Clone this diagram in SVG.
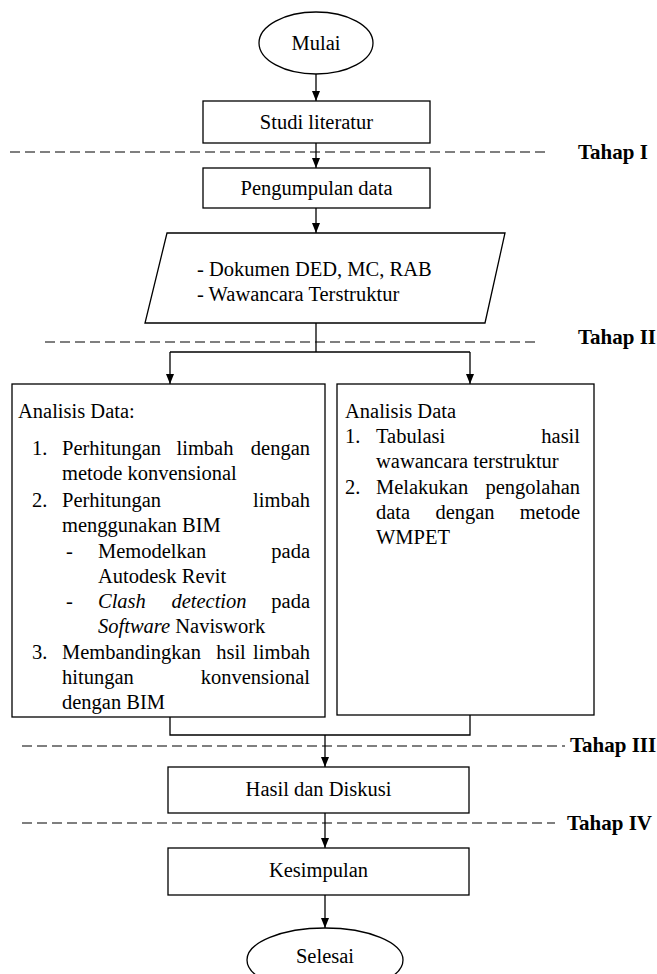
<svg xmlns="http://www.w3.org/2000/svg" width="657" height="974" viewBox="0 0 657 974" font-family="'Liberation Serif', 'DejaVu Serif', serif">
<style>
.shape{fill:#fff;stroke:#000;stroke-width:1.3}
.t{font-family:'Liberation Serif','DejaVu Serif',serif;font-size:20.5px;fill:#000}
.c{text-anchor:middle}
.e{text-anchor:end}
.i{font-style:italic}
.tahap{font-family:'Liberation Serif','DejaVu Serif',serif;font-size:21px;font-weight:bold;fill:#000}
.conn{fill:none;stroke:#000;stroke-width:1.3}
.dash{fill:none;stroke:#555;stroke-width:1.5;stroke-dasharray:10 5}
</style>
<defs>
<marker id="ah" viewBox="0 0 10 8" markerWidth="10" markerHeight="8" refX="10" refY="4" orient="auto" markerUnits="userSpaceOnUse">
<path d="M0,0 L10,4 L0,8 z" fill="#000"/>
</marker>
</defs>

<g id="stage-lines">
<line class="dash" x1="10" y1="152" x2="548" y2="152"/>
<text class="tahap" x="578" y="159">Tahap I</text>
<line class="dash" x1="45" y1="342" x2="540" y2="342"/>
<text class="tahap" x="578" y="344">Tahap II</text>
<line class="dash" x1="22" y1="746" x2="565" y2="746"/>
<text class="tahap" x="570" y="752">Tahap III</text>
<line class="dash" x1="22" y1="823" x2="555" y2="823"/>
<text class="tahap" x="567" y="830">Tahap IV</text>
</g>

<g id="connectors">
<line class="conn" x1="316" y1="74" x2="316" y2="101" marker-end="url(#ah)"/>
<line class="conn" x1="316" y1="143" x2="316" y2="168" marker-end="url(#ah)"/>
<line class="conn" x1="316" y1="208" x2="316" y2="233" marker-end="url(#ah)"/>
<polyline class="conn" points="316,323 316,352"/>
<polyline class="conn" points="170,352 470,352"/>
<line class="conn" x1="170" y1="352" x2="170" y2="384" marker-end="url(#ah)"/>
<line class="conn" x1="470" y1="352" x2="470" y2="384" marker-end="url(#ah)"/>
<polyline class="conn" points="170,717 170,735 470,735 470,715"/>
<line class="conn" x1="325" y1="735" x2="325" y2="767" marker-end="url(#ah)"/>
<line class="conn" x1="325" y1="813" x2="325" y2="848" marker-end="url(#ah)"/>
<line class="conn" x1="325" y1="895" x2="325" y2="928" marker-end="url(#ah)"/>
</g>

<g id="mulai">
<ellipse class="shape" cx="316" cy="43" rx="57" ry="31"/>
<text class="t c" x="316" y="50">Mulai</text>
</g>

<g id="studi-literatur">
<rect class="shape" x="203" y="101" width="227" height="42"/>
<text class="t c" x="316.5" y="129">Studi literatur</text>
</g>

<g id="pengumpulan-data">
<rect class="shape" x="203" y="168" width="227" height="40"/>
<text class="t c" x="316.5" y="195">Pengumpulan data</text>
</g>

<g id="data-input">
<polygon class="shape" points="167,233 505,233 485,323 145,323"/>
<text class="t" x="197" y="276">- Dokumen DED, MC, RAB</text>
<text class="t" x="197" y="301">- Wawancara Terstruktur</text>
</g>

<g id="analisis-bim">
<rect class="shape" x="12" y="384" width="313" height="333"/>
<text class="t" x="18" y="418">Analisis Data:</text>
<text class="t" x="32" y="455">1.</text>
<text class="t" x="62" y="455">Perhitungan</text>
<text class="t c" x="205" y="455">limbah</text>
<text class="t e" x="310" y="455">dengan</text>
<text class="t" x="62" y="480">metode konvensional</text>
<text class="t" x="32" y="507">2.</text>
<text class="t" x="62" y="507">Perhitungan</text>
<text class="t e" x="310" y="507">limbah</text>
<text class="t" x="62" y="532">menggunakan BIM</text>
<text class="t" x="66" y="558">-</text>
<text class="t" x="98" y="558">Memodelkan</text>
<text class="t e" x="310" y="558">pada</text>
<text class="t" x="98" y="583">Autodesk Revit</text>
<text class="t" x="66" y="608">-</text>
<text class="t i" x="98" y="608">Clash</text>
<text class="t i c" x="209" y="608">detection</text>
<text class="t e" x="310" y="608">pada</text>
<text class="t" x="98" y="633"><tspan class="i">Software</tspan> Naviswork</text>
<text class="t" x="32" y="659">3.</text>
<text class="t" x="62" y="659">Membandingkan</text>
<text class="t c" x="231" y="659">hsil</text>
<text class="t e" x="310" y="659">limbah</text>
<text class="t" x="62" y="684">hitungan</text>
<text class="t e" x="310" y="684">konvensional</text>
<text class="t" x="62" y="709">dengan BIM</text>
</g>

<g id="analisis-wmpet">
<rect class="shape" x="337" y="384" width="257" height="331"/>
<text class="t" x="345" y="418">Analisis Data</text>
<text class="t" x="345" y="443">1.</text>
<text class="t" x="376" y="443">Tabulasi</text>
<text class="t e" x="580" y="443">hasil</text>
<text class="t" x="376" y="468">wawancara terstruktur</text>
<text class="t" x="345" y="494">2.</text>
<text class="t" x="376" y="494">Melakukan</text>
<text class="t e" x="580" y="494">pengolahan</text>
<text class="t" x="376" y="519">data</text>
<text class="t c" x="465" y="519">dengan</text>
<text class="t e" x="580" y="519">metode</text>
<text class="t" x="376" y="544">WMPET</text>
</g>

<g id="hasil-diskusi">
<rect class="shape" x="168" y="767" width="301" height="46"/>
<text class="t c" x="318.5" y="796">Hasil dan Diskusi</text>
</g>

<g id="kesimpulan">
<rect class="shape" x="168" y="848" width="301" height="47"/>
<text class="t c" x="318.5" y="877">Kesimpulan</text>
</g>

<g id="selesai">
<ellipse class="shape" cx="325" cy="960" rx="78" ry="32"/>
<text class="t c" x="325" y="963">Selesai</text>
</g>
</svg>
